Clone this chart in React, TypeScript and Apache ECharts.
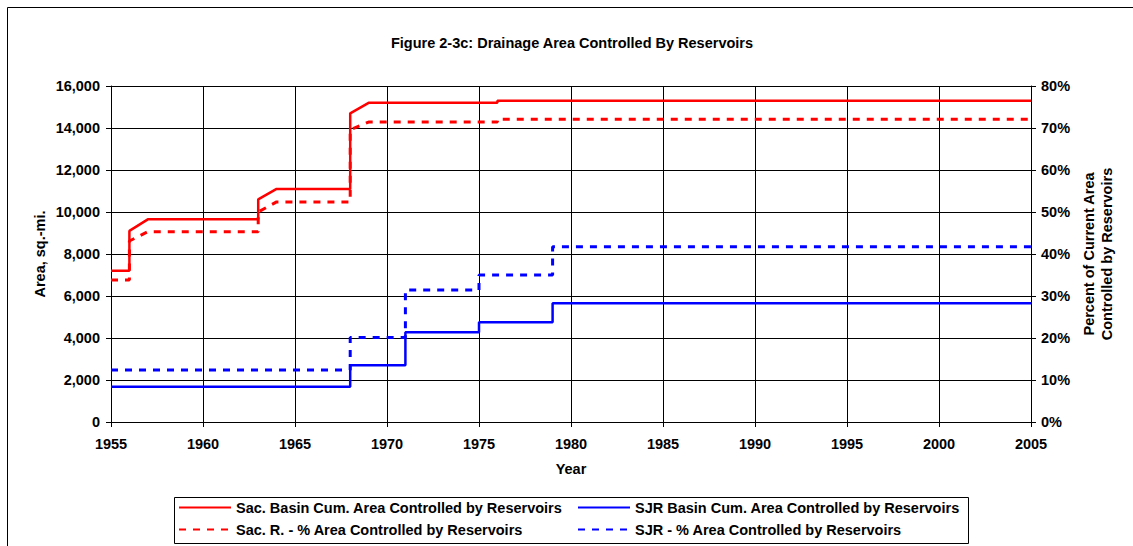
import React, { useEffect, useRef } from "react";
import * as echarts from "echarts";

const FONT = "Arial, 'Liberation Sans', sans-serif";
const FS = 14.5;

const titleText = "Figure 2-3c: Drainage Area Controlled By Reservoirs";
const leftAxisName = "Area, sq.-mi.";
const rightAxisName = "Percent of Current Area\nControlled by Reservoirs";
const xAxisName = "Year";

const seriesNames = [
  "Sac. Basin Cum. Area Controlled by Reservoirs",
  "SJR Basin Cum. Area Controlled by Reservoirs",
  "Sac. R. - % Area Controlled by Reservoirs",
  "SJR - % Area Controlled by Reservoirs",
];

const sacYears = [1955, 1956, 1956, 1957, 1963, 1963, 1964, 1968, 1968, 1969, 1976, 1976, 2005];
const sacArea = [7200, 7200, 9100, 9650, 9650, 10600, 11100, 11100, 14700, 15200, 15200, 15300, 15300];
const sacPct = [33.8, 33.8, 43.1, 45.3, 45.3, 50.0, 52.4, 52.4, 69.6, 71.4, 71.4, 72.1, 72.1];

const sjrYears = [1955, 1968, 1968, 1971, 1971, 1975, 1975, 1979, 1979, 2005];
const sjrArea = [1680, 1680, 2700, 2700, 4270, 4270, 4750, 4750, 5650, 5650];
const sjrPct = [12.4, 12.4, 20.1, 20.1, 31.4, 31.4, 35.0, 35.0, 41.7, 41.7];

const pairs = (xs: number[], ys: number[]) => xs.map((x, i) => [x, ys[i]]);

export default function App() {
  const ref = useRef<HTMLDivElement>(null);
  useEffect(() => {
    document.body.style.margin = "0";
    const chart = echarts.init(ref.current!, null, { renderer: "svg" });
    const labelStyle = { color: "#000", fontFamily: FONT, fontWeight: "bold" as const, fontSize: FS };
    const mkLegend = (name: string, left: number, top: number) => ({
      data: [name],
      left,
      top,
      itemWidth: 52,
      itemHeight: 14,
      itemGap: 0,
      selectedMode: false,
      textStyle: { ...labelStyle, padding: [0, 0, 0, 0] },
      itemStyle: { color: "transparent", borderColor: "transparent", borderWidth: 0, opacity: 0 },
      padding: 0,
    });
    chart.setOption({
      animation: false,
      backgroundColor: "#fff",
      title: {
        text: titleText,
        left: 567,
        top: 30,
        textAlign: "center",
        textStyle: { color: "#000", fontFamily: FONT, fontWeight: "bold", fontSize: FS },
      },
      grid: { left: 111, top: 86, width: 920, height: 336, containLabel: false },
      legend: [
        mkLegend(seriesNames[0], 178, 500),
        mkLegend(seriesNames[1], 577, 500),
        mkLegend(seriesNames[2], 178, 522),
        mkLegend(seriesNames[3], 577, 522),
      ],
      xAxis: {
        type: "value",
        min: 1955,
        max: 2005,
        interval: 5,
        axisLine: { show: true, onZero: false, lineStyle: { color: "#000", width: 1 } },
        axisTick: { show: true, length: 5, lineStyle: { color: "#000" } },
        axisLabel: { ...labelStyle, margin: 14, formatter: (v: number) => String(v) },
        splitLine: { show: true, lineStyle: { color: "#000", width: 1 } },
      },
      yAxis: [
        {
          type: "value",
          min: 0,
          max: 16000,
          interval: 2000,
          axisLine: { show: true, lineStyle: { color: "#000", width: 1 } },
          axisTick: { show: true, length: 5, lineStyle: { color: "#000" } },
          axisLabel: {
            ...labelStyle,
            margin: 11,
            formatter: (v: number) => v.toLocaleString("en-US"),
          },
          splitLine: { show: true, lineStyle: { color: "#000", width: 1 } },
        },
        {
          type: "value",
          position: "right",
          min: 0,
          max: 80,
          interval: 10,
          axisLine: { show: true, lineStyle: { color: "#000", width: 1 } },
          axisTick: { show: true, length: 5, lineStyle: { color: "#000" } },
          axisLabel: { ...labelStyle, margin: 10, formatter: "{value}%" },
          splitLine: { show: false },
        },
      ],
      graphic: [
        {
          type: "rect",
          shape: { x: 7.5, y: 7.5, width: 1140, height: 560 },
          style: { fill: "none", stroke: "#000", lineWidth: 1 },
          silent: true,
        },
        {
          type: "rect",
          shape: { x: 174.5, y: 497.5, width: 794, height: 46 },
          style: { fill: "none", stroke: "#000", lineWidth: 1 },
          silent: true,
        },
        {
          type: "text",
          x: 40,
          y: 254,
          rotation: Math.PI / 2,
          style: {
            text: leftAxisName,
            fill: "#000",
            font: `bold ${FS}px ${FONT}`,
            align: "center",
            verticalAlign: "middle",
          },
        },
        {
          type: "text",
          x: 1098,
          y: 254,
          rotation: Math.PI / 2,
          style: {
            text: rightAxisName,
            fill: "#000",
            font: `bold ${FS}px ${FONT}`,
            align: "center",
            verticalAlign: "middle",
            lineHeight: 18,
          },
        },
        {
          type: "text",
          x: 571,
          y: 469,
          style: {
            text: xAxisName,
            fill: "#000",
            font: `bold ${FS}px ${FONT}`,
            align: "center",
            verticalAlign: "middle",
          },
        },
      ],
      series: [
        {
          name: seriesNames[0],
          type: "line",
          yAxisIndex: 0,
          symbol: "none",
          data: pairs(sacYears, sacArea),
          lineStyle: { color: "#ff0000", width: 2.5 },
          itemStyle: { color: "#ff0000" },
          z: 4,
        },
        {
          name: seriesNames[1],
          type: "line",
          yAxisIndex: 0,
          symbol: "none",
          data: pairs(sjrYears, sjrArea),
          lineStyle: { color: "#0000ff", width: 2.5 },
          itemStyle: { color: "#0000ff" },
          z: 4,
        },
        {
          name: seriesNames[2],
          type: "line",
          yAxisIndex: 1,
          symbol: "none",
          data: pairs(sacYears, sacPct),
          lineStyle: { color: "#ff0000", width: 3, type: [7, 7] },
          itemStyle: { color: "#ff0000" },
          z: 3,
        },
        {
          name: seriesNames[3],
          type: "line",
          yAxisIndex: 1,
          symbol: "none",
          data: pairs(sjrYears, sjrPct),
          lineStyle: { color: "#0000ff", width: 3, type: [7, 7] },
          itemStyle: { color: "#0000ff" },
          z: 3,
        },
      ],
    });
    return () => chart.dispose();
  }, []);
  return <div ref={ref} style={{ width: 1133, height: 546 }} />;
}
